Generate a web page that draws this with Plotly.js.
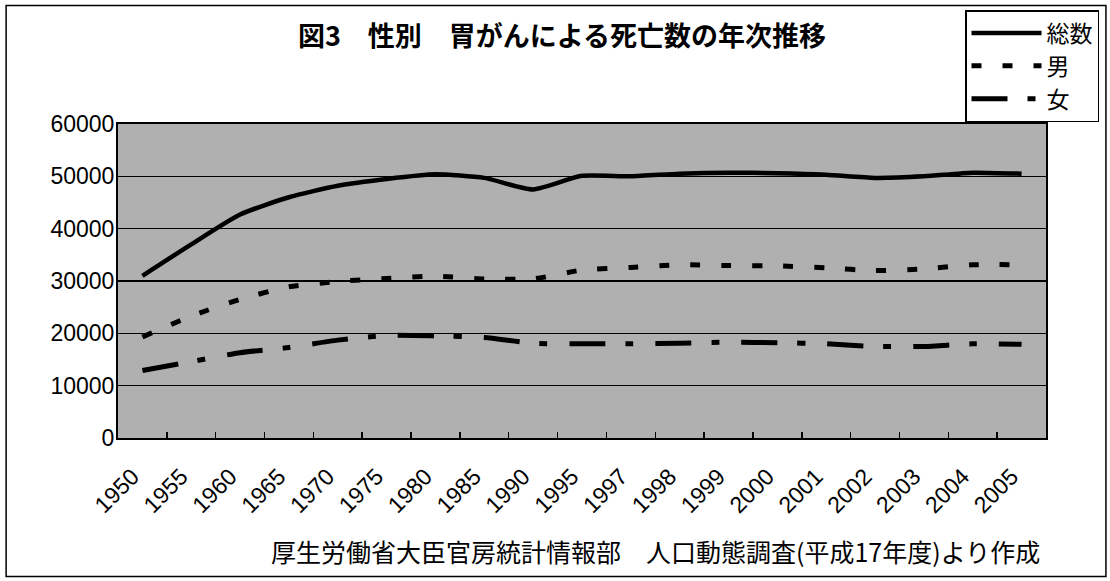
<!DOCTYPE html>
<html>
<head>
<meta charset="utf-8">
<script src="https://cdn.plot.ly/plotly-3.0.1.min.js"></script>
<style>
  html, body { margin: 0; padding: 0; background: #ffffff; }
  #chart { width: 1110px; height: 581px; }
</style>
</head>
<body>
<div id="chart"></div>
<script>
// Category labels (years)
const years = ['1950','1955','1960','1965','1970','1975','1980','1985','1990','1995',
               '1997','1998','1999','2000','2001','2002','2003','2004','2005'];
// Series values
const totalDeaths = [31000, 37000, 42700, 46000, 48200, 49500, 50400, 49700, 47500, 50100,
                     50000, 50500, 50700, 50600, 50300, 49700, 50000, 50700, 50500];
const maleDeaths  = [19300, 23300, 26500, 28900, 29900, 30500, 30900, 30400, 30400, 32100,
                     32600, 33100, 32950, 32900, 32500, 32000, 32300, 33100, 33100];
const femaleDeaths= [12900, 14600, 16300, 17300, 18700, 19600, 19500, 19200, 18100, 18000,
                     18000, 18100, 18300, 18200, 18000, 17500, 17500, 18000, 17900];
const seriesNames = ['総数', '男', '女'];
const yTicks = [0, 10000, 20000, 30000, 40000, 50000, 60000];

const titleText = '図3　性別　胃がんによる死亡数の年次推移';
const sourceText = '厚生労働省大臣官房統計情報部　人口動態調査(平成17年度)より作成';

const FONT = '"Liberation Sans", Arial, "Noto Sans CJK JP", sans-serif';
const JFONT = '"Noto Sans CJK JP", "Liberation Sans", sans-serif';

const traces = [
  { x: years, y: totalDeaths, name: seriesNames[0], type: 'scatter', mode: 'lines',
    line: { color: '#000000', width: 4.5, shape: 'spline', smoothing: 0.6 } },
  { x: years, y: maleDeaths, name: seriesNames[1], type: 'scatter', mode: 'lines',
    line: { color: '#000000', width: 5, dash: '10px,21px', shape: 'spline', smoothing: 0.6 } },
  { x: years, y: femaleDeaths, name: seriesNames[2], type: 'scatter', mode: 'lines',
    line: { color: '#000000', width: 5, dash: '36px,20px,8px,22px', shape: 'spline', smoothing: 0.6 } }
];

const L = 118, R = 1047, T = 123, B = 438, W = 1110, H = 581;
const px = v => (v - L) / (R - L);
const py = v => (B - v) / (B - T);

const layout = {
  width: W, height: H,
  margin: { l: L, r: W - R, t: T, b: H - B, pad: 0 },
  paper_bgcolor: '#ffffff',
  plot_bgcolor: '#b0b0b0',
  font: { family: FONT, color: '#000000', size: 22 },
  title: {
    text: titleText,
    font: { family: JFONT, size: 27, color: '#000000', weight: 'bold' },
    x: 562 / W, xref: 'container', xanchor: 'center',
    y: 1 - 37 / H, yref: 'container', yanchor: 'middle'
  },
  xaxis: {
    type: 'category',
    categoryorder: 'array', categoryarray: years,
    tickson: 'boundaries',
    ticks: 'inside', ticklen: 6, tickwidth: 1.5, tickcolor: '#000000',
    tickangle: -45,
    tickfont: { family: FONT, size: 23, color: '#000000' },
    ticklabelstandoff: 14,
    ticklabelshift: -10,
    showgrid: false,
    showline: true, linecolor: '#000000', linewidth: 2, mirror: true,
    zeroline: false,
    range: [-0.5, years.length - 0.5],
    fixedrange: true
  },
  yaxis: {
    range: [0, 60000],
    tickvals: yTicks,
    ticktext: yTicks.map(String),
    ticks: '',
    tickfont: { family: FONT, size: 23, color: '#000000' },
    showgrid: true, gridcolor: '#000000', gridwidth: 1.5,
    showline: true, linecolor: '#000000', linewidth: 2, mirror: true,
    zeroline: false,
    ticklabelstandoff: -3,
    fixedrange: true
  },
  showlegend: true,
  legend: {
    x: px(965), y: py(10), xanchor: 'left', yanchor: 'top',
    bgcolor: '#ffffff', bordercolor: '#000000', borderwidth: 1.5,
    font: { family: JFONT, size: 23, color: '#000000' },
    itemwidth: 70,
    tracegroupgap: 0
  },
  annotations: [
    { text: sourceText, xref: 'paper', yref: 'paper',
      x: px(656), y: py(551), xanchor: 'center', yanchor: 'middle',
      showarrow: false, font: { family: JFONT, size: 25, color: '#000000' } }
  ],
  shapes: [
    { type: 'rect', xref: 'paper', yref: 'paper',
      x0: px(6), x1: px(1107), y0: py(577), y1: py(4),
      line: { color: '#000000', width: 1.5 }, layer: 'below' }
  ]
};

Plotly.newPlot('chart', traces, layout, { displayModeBar: false, staticPlot: true });
</script>
</body>
</html>
